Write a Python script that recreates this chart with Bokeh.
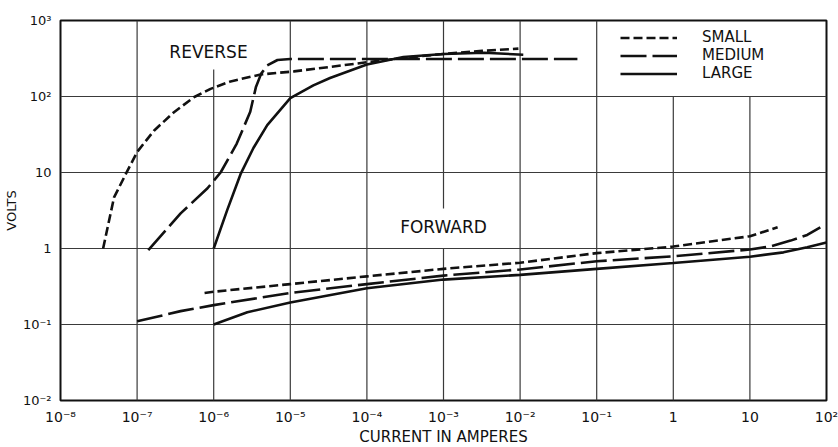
from bokeh.plotting import figure
from bokeh.models import Range1d, FixedTicker, Legend, LegendItem, Label
from bokeh.embed import file_html
from bokeh.resources import INLINE

# ---- tick values and labels ----
x_ticks = [1e-8, 1e-7, 1e-6, 1e-5, 1e-4, 1e-3, 1e-2, 1e-1, 1.0, 10.0, 100.0]
x_tick_labels = ["10⁻⁸", "10⁻⁷", "10⁻⁶", "10⁻⁵", "10⁻⁴", "10⁻³", "10⁻²", "10⁻¹", "1", "10", "10²"]
y_ticks = [1e-2, 1e-1, 1.0, 10.0, 100.0, 1000.0]
y_tick_labels = ["10⁻²", "10⁻¹", "1", "10", "10²", "10³"]

# ---- reverse characteristics (current A, volts) ----
rev_small_i = [3.6e-8, 5.0e-8, 7.1e-8, 1.0e-7, 1.66e-7, 3.0e-7, 5.5e-7, 9.1e-7, 1.66e-6, 4.1e-6,
               1.12e-5, 3.3e-5, 1.0e-4, 3.2e-4, 1.0e-3, 3.2e-3, 9.5e-3]
rev_small_v = [1.0, 4.7, 9.5, 18.6, 35.5, 61.7, 97.7, 126, 158, 195, 214, 245, 282, 324, 363, 398, 427]

rev_med_i = [1.4e-7, 3.7e-7, 8.3e-7, 1.23e-6, 2.0e-6, 3.0e-6, 3.55e-6, 4.17e-6, 5.0e-6, 6.8e-6,
             1.0e-5, 1.0e-4, 1.0e-3, 1.0e-2, 5.6e-2]
rev_med_v = [0.95, 2.9, 6.2, 10, 24, 63, 132, 200, 257, 302, 312, 312, 312, 312, 312]

rev_large_i = [1.0e-6, 1.5e-6, 2.24e-6, 3.3e-6, 5.0e-6, 1.0e-5, 2.0e-5, 3.3e-5, 1.0e-4, 3.0e-4,
               1.0e-3, 3.4e-3, 1.1e-2]
rev_large_v = [1.0, 3.2, 9.5, 21, 42, 95, 140, 175, 263, 331, 363, 376, 355]

# ---- forward characteristics ----
fwd_small_i = [7.6e-7, 1e-6, 1e-5, 1e-4, 1e-3, 1e-2, 1e-1, 1.0, 10, 23]
fwd_small_v = [0.26, 0.27, 0.34, 0.43, 0.54, 0.65, 0.87, 1.06, 1.45, 1.9]

fwd_med_i = [1.0e-7, 3.7e-7, 1e-6, 1e-5, 1e-4, 1e-3, 1e-2, 1e-1, 1.0, 10, 19, 34, 56, 83]
fwd_med_v = [0.11, 0.15, 0.18, 0.26, 0.34, 0.44, 0.53, 0.68, 0.79, 0.97, 1.07, 1.27, 1.51, 1.9]

fwd_large_i = [1e-6, 2.75e-6, 1e-5, 1e-4, 1e-3, 1e-2, 1e-1, 1.0, 10, 27.5, 56, 100]
fwd_large_v = [0.1, 0.145, 0.195, 0.30, 0.39, 0.45, 0.54, 0.645, 0.78, 0.89, 1.04, 1.2]

# ---- grid lines (with the gaps left around labels / legend in the original) ----
vgrid_x = [1e-7, 1e-6, 1e-5, 1e-4, 1e-3, 1e-3, 1e-2, 1e-1, 1.0, 10.0]
vgrid_y0 = [1e-2, 1e-2, 1e-2, 1e-2, 1e-2, 3.36, 1e-2, 1e-2, 1e-2, 1e-2]
vgrid_y1 = [1e3, 226, 1e3, 1e3, 1.0, 1e3, 1e3, 1e3, 1e2, 1e2]
hgrid_y = [0.1, 1.0, 10.0, 100.0]

FONT = "DejaVu Sans"
INK = "#111111"

p = figure(frame_width=766, frame_height=380,
           x_axis_type="log", y_axis_type="log",
           x_range=Range1d(1e-8, 1e2), y_range=Range1d(1e-2, 1e3),
           output_backend="svg", toolbar_location=None,
           min_border_left=60, min_border_right=12, min_border_top=20, min_border_bottom=47)
p.xgrid.visible = False
p.ygrid.visible = False
p.outline_line_color = INK
p.outline_line_width = 2
p.background_fill_color = "white"
p.border_fill_color = "white"

# grid
p.segment(x0=vgrid_x, y0=vgrid_y0, x1=vgrid_x, y1=vgrid_y1, line_color="#3a3a3a", line_width=1.2)
p.segment(x0=[1e-8] * len(hgrid_y), y0=hgrid_y, x1=[1e2] * len(hgrid_y), y1=hgrid_y,
          line_color="#3a3a3a", line_width=1.2)

small_dash = "9 4"
med_dash = "26 6"
lw = 2.6

r_small = p.line(rev_small_i, rev_small_v, line_color=INK, line_width=lw, line_dash=small_dash)
p.line(fwd_small_i, fwd_small_v, line_color=INK, line_width=lw, line_dash=small_dash)
r_med = p.line(rev_med_i, rev_med_v, line_color=INK, line_width=lw, line_dash=med_dash)
p.line(fwd_med_i, fwd_med_v, line_color=INK, line_width=lw, line_dash=med_dash)
r_large = p.line(rev_large_i, rev_large_v, line_color=INK, line_width=lw)
p.line(fwd_large_i, fwd_large_v, line_color=INK, line_width=lw)

# axes
for ax, ticks, labels in ((p.xaxis[0], x_ticks, x_tick_labels), (p.yaxis[0], y_ticks, y_tick_labels)):
    ax.ticker = FixedTicker(ticks=ticks, minor_ticks=[])
    ax.major_label_overrides = dict(zip(ticks, labels))
    ax.major_tick_line_color = None
    ax.minor_tick_line_color = None
    ax.major_tick_out = 0
    ax.major_tick_in = 0
    ax.minor_tick_out = 0
    ax.axis_line_color = None
    ax.major_label_text_font = FONT
    ax.major_label_text_color = INK
    ax.axis_label_text_font = FONT
    ax.axis_label_text_font_style = "normal"
    ax.axis_label_text_color = INK

p.xaxis.axis_label = "CURRENT IN AMPERES"
p.xaxis.major_label_text_font_size = "14px"
p.xaxis.major_label_standoff = 8
p.xaxis.axis_label_text_font_size = "15px"
p.xaxis.axis_label_standoff = 0

p.yaxis.axis_label = "VOLTS"
p.yaxis.major_label_text_font_size = "13px"
p.yaxis.major_label_standoff = 9
p.yaxis.axis_label_text_font_size = "13px"
p.yaxis.axis_label_standoff = 1

# region labels
p.add_layout(Label(x=8.55e-7, y=383, text="REVERSE", text_align="center", text_baseline="middle",
                   text_font=FONT, text_font_size="17px", text_color=INK))
p.add_layout(Label(x=1.0e-3, y=1.89, text="FORWARD", text_align="center", text_baseline="middle",
                   text_font=FONT, text_font_size="17px", text_color=INK))

legend = Legend(items=[LegendItem(label="SMALL", renderers=[r_small]),
                       LegendItem(label="MEDIUM", renderers=[r_med]),
                       LegendItem(label="LARGE", renderers=[r_large])],
                location=(560, 318), glyph_width=57, glyph_height=17, label_height=17,
                label_standoff=25, spacing=0, padding=0, margin=0,
                border_line_color=None, background_fill_alpha=0,
                label_text_font=FONT, label_text_font_size="15px", label_text_color=INK)
p.add_layout(legend)

open("out.html", "w").write(file_html(p, INLINE))
